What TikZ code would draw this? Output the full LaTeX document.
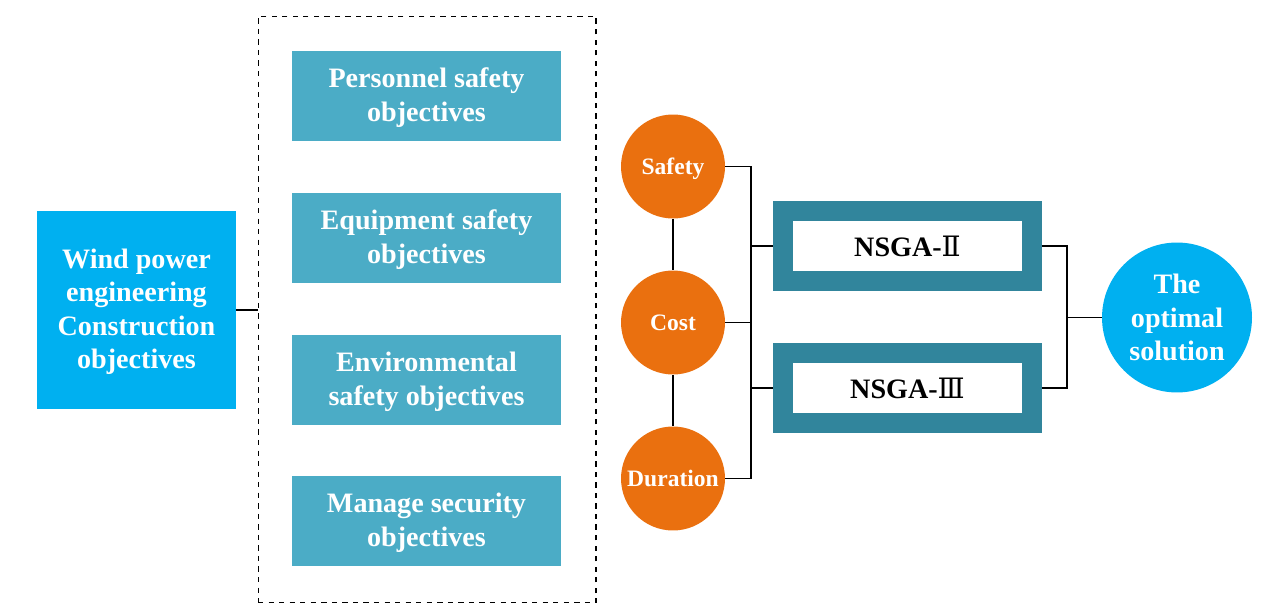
\documentclass[tikz,border=0pt]{standalone}
\usepackage{fontspec}
\setmainfont{Liberation Serif}
\newfontfamily\numfont{DejaVu Serif}
\usepackage{tikz}
\usetikzlibrary{positioning}
\definecolor{skyblue}{HTML}{00B0F0}
\definecolor{goalteal}{HTML}{4BACC6}
\definecolor{critorange}{HTML}{EA700F}
\definecolor{algoteal}{HTML}{31859C}
\tikzstyle{bigtext}=[font=\bfseries\fontsize{16}{19.1}\selectfont, align=center]
\tikzstyle{target}=[bigtext, fill=skyblue, text=white, text depth=1.6pt, minimum width=3.98cm, minimum height=3.96cm, inner sep=0pt]
\tikzstyle{goal}=[bigtext, fill=goalteal, text=white, text depth=1.6pt, minimum width=5.38cm, minimum height=1.8cm, inner sep=0pt]
\tikzstyle{crit}=[circle, fill=critorange, text=white, text height=10pt, text depth=1.4pt, minimum size=2.08cm, inner sep=0pt, font=\bfseries\fontsize{13.4}{16}\selectfont]
\tikzstyle{algo}=[bigtext, draw=algoteal, line width=0.39cm, fill=white, minimum width=4.99cm, minimum height=1.41cm, inner sep=0pt]
\tikzstyle{result}=[bigtext, circle, fill=skyblue, text=white, minimum size=3cm, inner sep=0pt]
\tikzstyle{group}=[draw=black, dashed, line width=0.6pt, minimum width=6.76cm, minimum height=11.74cm, inner sep=0pt]
\tikzstyle{link}=[draw=black, line width=1.1pt]

\begin{document}
\begin{tikzpicture}[x=0.02cm, y=-0.02cm]
	\useasboundingbox (0,0) rectangle (1267,615);
	\begin{scope}
		\node (wind) at (136.5, 310)[target] {Wind power\\engineering\\Construction\\objectives};
		\node (objs) at (427, 309.5)[group] {};
		\node (personnel) at (426.5, 96)[goal] {Personnel safety\\objectives};
		\node (equipment) at (426.5, 238)[goal] {Equipment safety\\objectives};
		\node (environment) at (426.5, 380)[goal] {Environmental\\safety objectives};
		\node (manage) at (426.5, 521)[goal] {Manage security\\objectives};
		\node (safety) at (673, 166.5)[crit] {Safety};
		\node (cost) at (673, 322.5)[crit] {Cost};
		\node (duration) at (673, 478.5)[crit] {Duration};
		\node (nsga2) at (907.5, 246)[algo, text=black] {NSGA-{\numfont\mdseries Ⅱ}};
		\node (nsga3) at (907.5, 388)[algo, text=black] {NSGA-{\numfont\mdseries Ⅲ}};
		\node (optimal) at (1177, 317.5)[result] {The\\optimal\\solution};
		\coordinate (busL) at (751, 322.5);
		\coordinate (busR) at (1067, 317.5);
	\end{scope}
	\begin{scope}
		\path [link] (wind.east) -- (wind.east -| objs.west);
		\path [link] (safety) -- (cost);
		\path [link] (cost) -- (duration);
		\path [link] (safety.east) -| (busL);
		\path [link] (duration.east) -| (busL);
		\path [link] (cost.east) -- (busL);
		\path [link] (busL |- nsga2.west) -- (nsga2.west);
		\path [link] (busL |- nsga3.west) -- (nsga3.west);
		\path [link] (nsga2.east) -| (busR);
		\path [link] (nsga3.east) -| (busR);
		\path [link] (busR) -- (optimal.west);
	\end{scope}
\end{tikzpicture}
\end{document}
